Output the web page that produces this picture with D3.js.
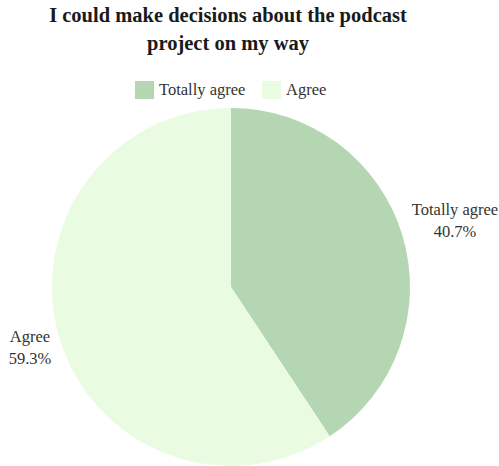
<!DOCTYPE html>
<html lang="en">
<head>
  <meta charset="UTF-8"/>
  <title>Pie chart</title>
  <script src="https://d3js.org/d3.v7.min.js"></script>
  <style>
    body { margin: 0; background: white; }
    text { font-family: "Liberation Serif", "Times New Roman", serif; }
  </style>
</head>
<body>
<script>
  var w = 499;
  var h = 466;

  var categories = ["Totally agree", "Agree"];
  var values = [40.7, 59.3];
  var colors = ["#b5d6b3", "#e9fce1"];
  var titleLines = ["I could make decisions about the podcast", "project on my way"];

  var cx = 231, cy = 287, radius = 179;

  var svg = d3.select("body")
          .append("svg")
          .attr("width", w)
          .attr("height", h);

  // title
  svg.selectAll("text.title")
          .data(titleLines)
          .enter()
          .append("text")
          .attr("class", "title")
          .attr("x", 228)
          .attr("y", function(d, i) { return 22 + i * 28; })
          .attr("text-anchor", "middle")
          .attr("font-weight", "bold")
          .attr("font-size", "20.5px")
          .attr("fill", "#1a1a1a")
          .text(function(d) { return d; });

  // legend
  var legendX = [135, 262];
  var legend = svg.selectAll("g.legend")
          .data(categories)
          .enter()
          .append("g")
          .attr("class", "legend")
          .attr("transform", function(d, i) { return "translate(" + legendX[i] + ",81)"; });

  legend.append("rect")
          .attr("width", 19)
          .attr("height", 18)
          .attr("fill", function(d, i) { return colors[i]; });

  legend.append("text")
          .attr("x", 24)
          .attr("y", 14)
          .attr("font-size", "16.5px")
          .attr("fill", "#333")
          .text(function(d) { return d; });

  // pie
  var pie = d3.pie().sort(null).value(function(d) { return d; });
  var arc = d3.arc().innerRadius(0).outerRadius(radius);
  var arcs = pie(values);

  var g = svg.append("g")
          .attr("transform", "translate(" + cx + "," + cy + ")");

  g.selectAll("path")
          .data(arcs)
          .enter()
          .append("path")
          .attr("d", arc)
          .attr("fill", function(d, i) { return colors[i]; });

  // outside labels
  var labelPos = [[455, 215], [30, 342]];
  var labels = svg.selectAll("g.label")
          .data(arcs)
          .enter()
          .append("g")
          .attr("class", "label")
          .attr("transform", function(d, i) { return "translate(" + labelPos[i][0] + "," + labelPos[i][1] + ")"; });

  labels.append("text")
          .attr("text-anchor", "middle")
          .attr("font-size", "16.5px")
          .attr("fill", "#333")
          .text(function(d, i) { return categories[i]; });

  labels.append("text")
          .attr("text-anchor", "middle")
          .attr("y", 22)
          .attr("font-size", "16.5px")
          .attr("fill", "#333")
          .text(function(d) { return d.data.toFixed(1) + "%"; });
</script>
</body>
</html>
